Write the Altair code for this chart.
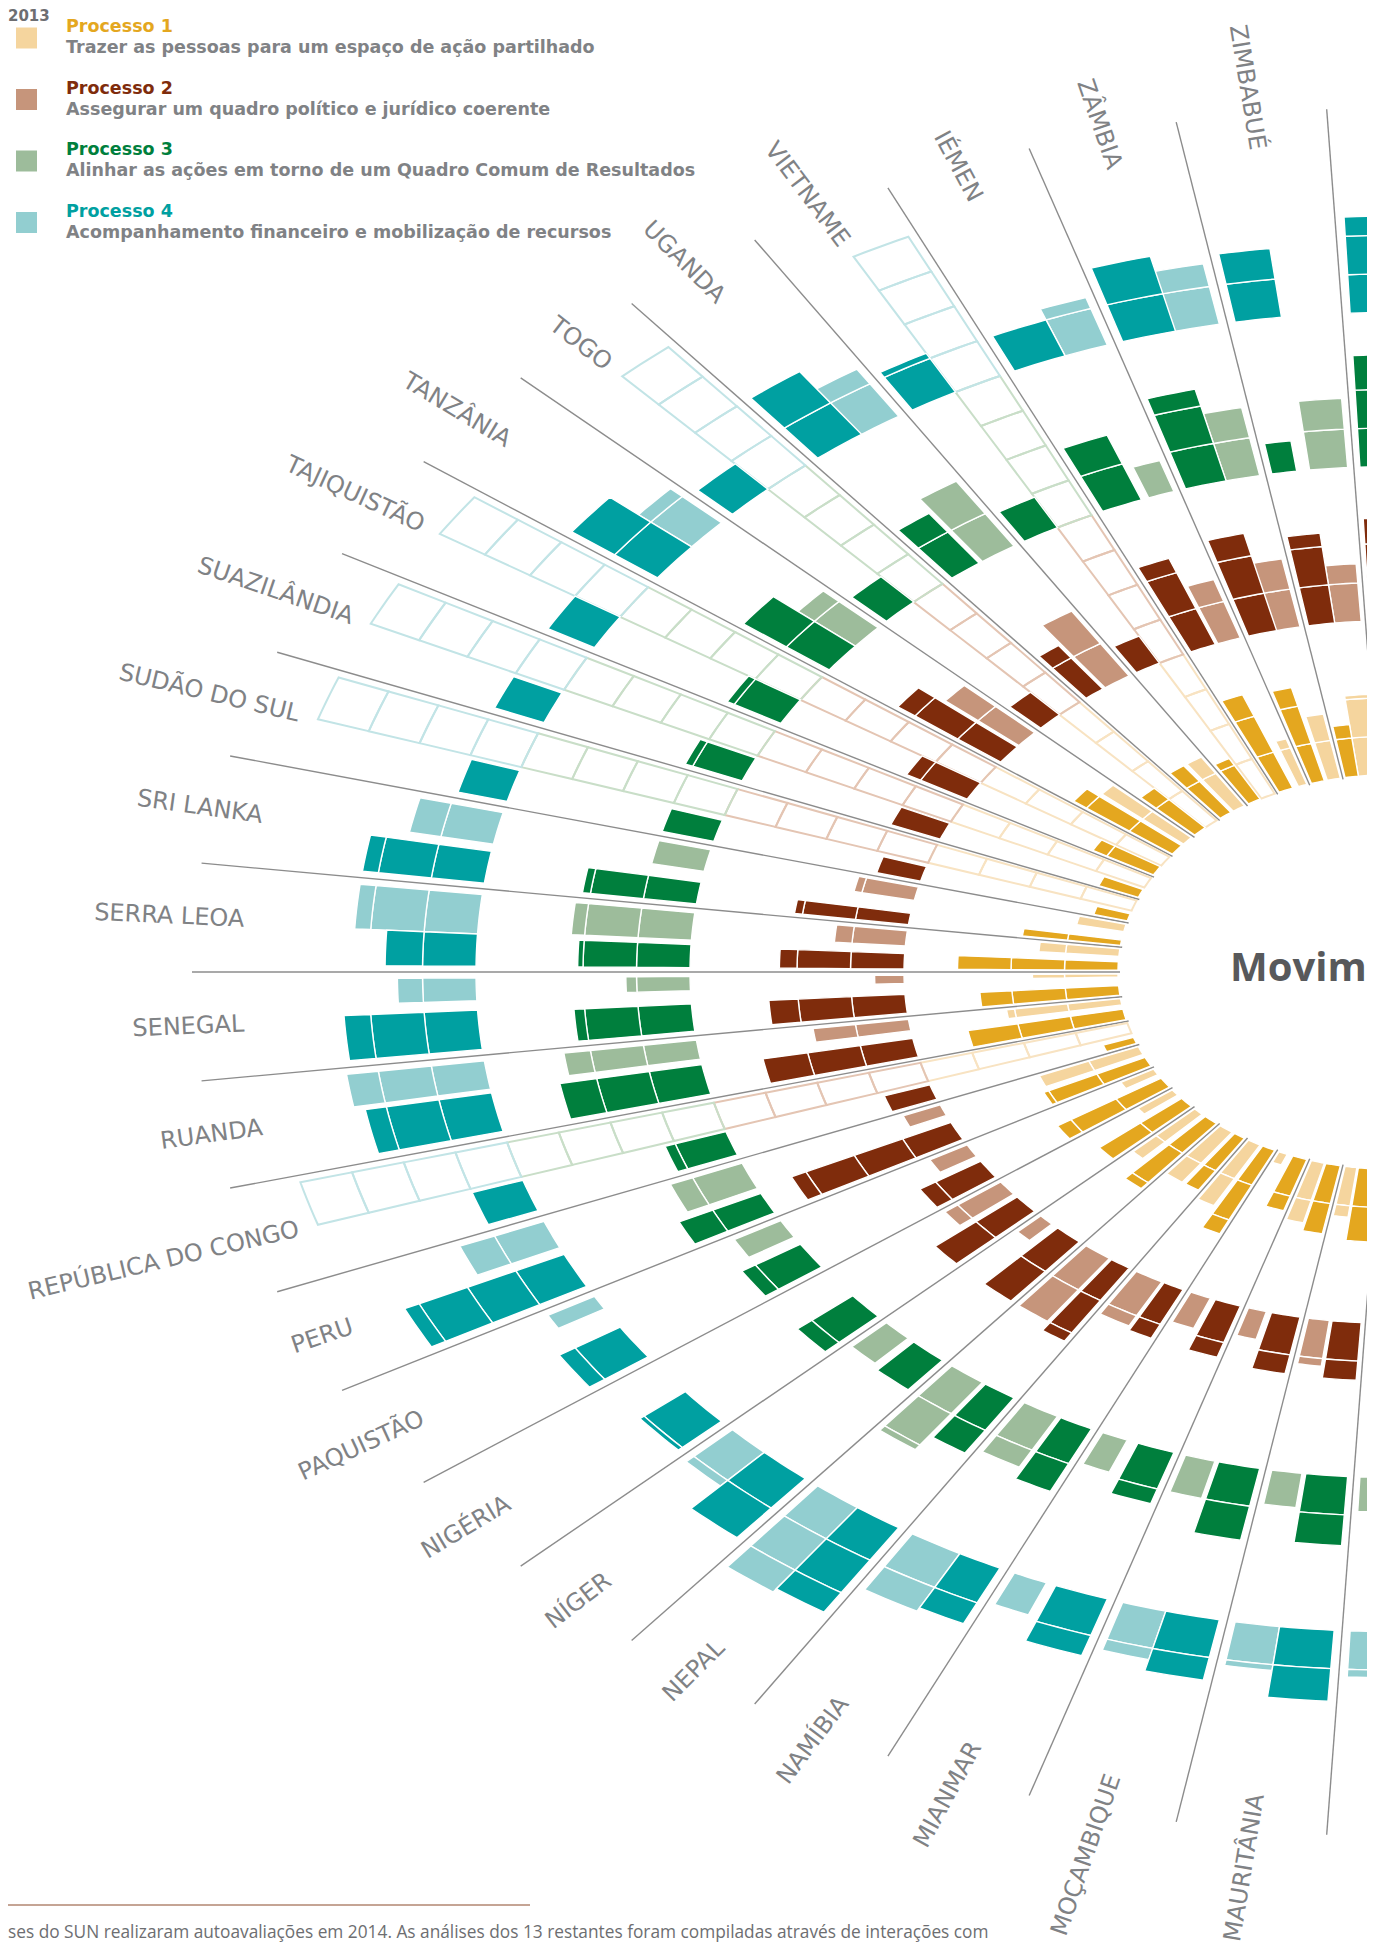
import math
import pandas as pd
import altair as alt

# ---------------- data ----------------
countries = ["BANGLADESH", "ZIMBABUÉ", "ZÂMBIA", "IÉMEN", "VIETNAME", "UGANDA", "TOGO",
             "TANZÂNIA", "TAJIQUISTÃO", "SUAZILÂNDIA", "SUDÃO DO SUL", "SRI LANKA",
             "SERRA LEOA", "SENEGAL", "RUANDA", "REPÚBLICA DO CONGO", "PERU", "PAQUISTÃO",
             "NIGÉRIA", "NÍGER", "NEPAL", "NAMÍBIA", "MIANMAR", "MOÇAMBIQUE", "MAURITÂNIA", "MALI"]
slots = [12, 11, 10, 9, 8, 7, 6, 5, 4, 3, 2, 1, 0, -1, -2, -3, -4, -5, -6, -7, -8, -9, -10, -11, -12, -13]
label_shown = [False] + [True] * 24 + [False]

# progress per process, in quarter steps (0-4); None = no 2013 assessment
p1_2013 = [1.5, 2.1, 1.7, 1.25, None, 1.5, None, 2.0, None, None, None, 0.9, 1.5, 1.6, 2.15, None, 2.0, 0.7, 0.8, 1.6, 1.6, 1.8, 0.3, 1.6, 1.3, 1.2]
p1_2014 = [1.8, 1.35, 2.5, 2.6, 1.2, 1.5, 1.4, 2.3, 1.3, 0.8, 0.65, 1.85, 3.0, 2.6, 2.95, 0.6, 2.1, 2.3, 2.0, 2.2, 1.6, 2.4, 1.4, 1.8, 1.9, 1.5]
p2_2013 = [1.5, 1.5, 1.8, 1.6, None, 2.0, None, 1.8, None, None, None, 1.15, 1.33, 0.55, 1.8, None, 0.75, 0.8, 1.3, 0.6, 2.0, 1.3, 0.85, 0.75, 1.2, 1.0]
p2_2014 = [2.66, 2.35, 2.6, 2.4, 0.8, 1.4, 0.8, 2.4, 1.3, 1.0, 0.85, 2.15, 2.33, 2.55, 2.85, 0.9, 3.3, 1.35, 2.0, 2.0, 2.25, 1.4, 1.4, 1.5, 1.5, 1.5]
p3_2013 = [1.5, 1.8, 1.8, 0.85, None, 2.0, None, 1.4, None, None, None, 1.0, 2.25, 1.2, 2.5, None, 1.45, 1.0, 0, 0.9, 2.15, 1.5, 0.9, 1.0, 0.9, 0.9]
p3_2014 = [2.9, 0.8, 2.45, 1.8, 0.9, 1.6, 0.9, 2.0, 1.15, 1.15, 1.0, 2.15, 2.1, 2.2, 2.7, 1.2, 1.7, 1.3, 1.35, 1.0, 1.7, 1.8, 1.4, 1.9, 1.8, 1.5]
p4_2013 = [1.5, 0, 1.6, 1.3, None, 1.45, None, 1.3, None, None, None, 1.6, 2.3, 1.47, 2.6, None, 1.7, 1.0, 0, 1.2, 2.7, 1.7, 0.9, 1.3, 1.15, 1.2]
p4_2014 = [2.5, 1.8, 2.0, 1.0, 1.15, 2.0, 0.9, 2.0, 1.0, 1.0, 0.95, 2.3, 1.7, 2.5, 2.4, 1.0, 3.3, 1.35, 1.1, 2.0, 2.6, 1.6, 1.55, 1.6, 1.85, 1.5]

# share of the country wedge taken by each bar
p1_2013_share = [.45, .55, .45, .3, None, .45, None, .4, None, None, None, .35, .35, .15, .3, None, .4, .3, .3, .35, .5, .45, .3, .45, .4, .45]
p1_2014_share = [.55, .45, .45, .5, .45, .45, .5, .5, .45, .4, .35, .25, .4, .45, .5, .3, .45, .5, .5, .5, .4, .45, .5, .5, .55, .5]
p2_2013_share = [.45, .5, .5, .45, None, .55, None, .45, None, None, None, .36, .4, .22, .3, None, .3, .35, .4, .3, .55, .55, .4, .35, .4, .45]
p2_2014_share = [.55, .5, .55, .5, .5, .4, .5, .5, .5, .45, .4, .3, .4, .5, .5, .4, .5, .5, .5, .55, .4, .4, .5, .55, .55, .5]
p3_2013_share = [.45, .5, .45, .35, None, .5, None, .45, None, None, None, .4, .5, .26, .35, None, .5, .35, 0, .4, .5, .5, .35, .4, .4, .45]
p3_2014_share = [.55, .33, .55, .55, .5, .45, .5, .55, .5, .45, .4, .4, .42, .5, .55, .45, .4, .5, .5, .5, .45, .45, .5, .55, .55, .5]
p4_2013_share = [.45, 0, .5, .45, None, .5, None, .45, None, None, None, .45, .55, .32, .4, None, .4, .2, 0, .45, .5, .55, .35, .45, .45, .45]
p4_2014_share = [.55, .47, .55, .55, .5, .55, .5, .55, .5, .45, .45, .45, .45, .55, .55, .45, .5, .5, .55, .55, .5, .45, .55, .55, .55, .5]

process_titles = ["Processo 1", "Processo 2", "Processo 3", "Processo 4"]
process_texts = ["Trazer as pessoas para um espaço de ação partilhado",
                 "Assegurar um quadro político e jurídico coerente",
                 "Alinhar as ações em torno de um Quadro Comum de Resultados",
                 "Acompanhamento financeiro e mobilização de recursos"]
footnote = ("ses do SUN realizaram autoavaliações em 2014. As análises dos 13 restantes "
            "foram compiladas através de interações com")

# ---------------- styling / geometry ----------------
DARK = ["#E4A71F", "#7F2C0C", "#007F3D", "#00A0A1"]
LIGHT = ["#F5D59E", "#C6957B", "#9DBC9B", "#92CED0"]
OUTLINE = ["#F8E3C2", "#E4C5B3", "#C9DEC8", "#C2E4E6"]
WEDGE = 7.24
MARGIN = 0.5
R_IN = [274, 488, 702, 916]
STEP = 53.5
OUT_SHARE = 0.5
W, H = 1359, 1935

vals = [(p1_2013, p1_2014, p1_2013_share, p1_2014_share),
        (p2_2013, p2_2014, p2_2013_share, p2_2014_share),
        (p3_2013, p3_2014, p3_2013_share, p3_2014_share),
        (p4_2013, p4_2014, p4_2013_share, p4_2014_share)]


def add_poly(rows, pid, r0, r1, pa, pb, col, n=6):
    k = 0
    for j in range(n):
        rows.append({"id": pid, "ord": k, "r": r0, "phi": pa + (pb - pa) * j / (n - 1), "col": col})
        k += 1
    for j in range(n):
        rows.append({"id": pid, "ord": k, "r": r1, "phi": pb - (pb - pa) * j / (n - 1), "col": col})
        k += 1


cell_rows, out_rows = [], []
pid = 0
usable = WEDGE - 2 * MARGIN
for i, s in enumerate(slots):
    lo, hi = s * WEDGE, (s + 1) * WEDGE
    for p in range(4):
        v13, v14, w13, w14 = (a[i] for a in vals[p])
        if v13 is None:
            pa, pb = hi - MARGIN - OUT_SHARE * usable, hi - MARGIN
            for c in range(4):
                add_poly(out_rows, pid, R_IN[p] + c * STEP, R_IN[p] + (c + 1) * STEP, pa, pb, OUTLINE[p])
                pid += 1
        for year, v, w in ((2013, v13, w13), (2014, v14, w14)):
            if v is None or v <= 0:
                continue
            if year == 2014:
                pa, pb, col = lo + MARGIN, lo + MARGIN + w * usable, DARK[p]
            else:
                pa, pb, col = hi - MARGIN - w * usable, hi - MARGIN, LIGHT[p]
            for c in range(math.ceil(v)):
                add_poly(cell_rows, pid, R_IN[p] + c * STEP, R_IN[p] + min(c + 1, v) * STEP, pa, pb, col)
                pid += 1

cells = pd.DataFrame(cell_rows)
outlines = pd.DataFrame(out_rows)
spokes = pd.DataFrame({"phi": [k * WEDGE for k in range(-13, 14)], "r0": 272, "r1": 1200})
labels = pd.DataFrame({"name": countries, "phi": [(s + 0.5) * WEDGE for s in slots], "r": 1150,
                       "shown": label_shown})
labels = labels[labels["shown"]].drop(columns="shown")

xs = alt.Scale(domain=[-1384, -1384 + W], nice=False, zero=False)
ys = alt.Scale(domain=[(964 - H) / 0.72, 964 / 0.72], nice=False, zero=False)
XC = "-datum.r*cos(datum.phi*PI/180)"
YC = "datum.r*sin(datum.phi*PI/180)"

spoke_layer = alt.Chart(spokes).transform_calculate(
    X0="-datum.r0*cos(datum.phi*PI/180)", Y0="datum.r0*sin(datum.phi*PI/180)",
    X1="-datum.r1*cos(datum.phi*PI/180)", Y1="datum.r1*sin(datum.phi*PI/180)",
).mark_rule(color="#8C8C8C", strokeWidth=1.4).encode(
    x=alt.X("X0:Q", scale=xs, axis=None), y=alt.Y("Y0:Q", scale=ys, axis=None),
    x2="X1:Q", y2="Y1:Q")

outline_layer = alt.Chart(outlines).transform_calculate(X=XC, Y=YC).mark_line(
    interpolate="linear-closed", strokeWidth=2).encode(
    x=alt.X("X:Q", scale=xs, axis=None), y=alt.Y("Y:Q", scale=ys, axis=None),
    detail="id:N", order="ord:Q", stroke=alt.Stroke("col:N", scale=None))

cell_layer = alt.Chart(cells).transform_calculate(X=XC, Y=YC).mark_line(
    filled=True, interpolate="linear-closed", stroke="white", strokeWidth=1.4).encode(
    x=alt.X("X:Q", scale=xs, axis=None), y=alt.Y("Y:Q", scale=ys, axis=None),
    detail="id:N", order="ord:Q", fill=alt.Fill("col:N", scale=None))

label_layer = alt.Chart(labels).transform_calculate(
    X=XC, Y=YC,
    ang="(atan2(0.72*sin(datum.phi*PI/180), cos(datum.phi*PI/180))*180/PI + 360) % 360",
).mark_text(align="right", baseline="middle", font="DejaVu Sans", fontSize=24, color="#808285").encode(
    x=alt.X("X:Q", scale=xs, axis=None), y=alt.Y("Y:Q", scale=ys, axis=None),
    angle=alt.Angle("ang:Q", scale=None), text="name:N")

title_layer = alt.Chart(pd.DataFrame({"X": [0], "Y": [0], "t": ["Movimento SUN"]})).mark_text(
    align="center", baseline="middle", font="Open Sans", fontSize=40, fontWeight="bold",
    color="#58595B", dy=-3).encode(
    x=alt.X("X:Q", scale=xs, axis=None), y=alt.Y("Y:Q", scale=ys, axis=None), text="t:N")


def txt(s, x, y, size, color, weight="bold", font="DejaVu Sans"):
    return alt.Chart(pd.DataFrame({"t": [s]})).mark_text(
        align="left", baseline="alphabetic", font=font, fontSize=size, fontWeight=weight,
        color=color).encode(x=alt.value(x), y=alt.value(y), text="t:N")


legend = [txt("2013", 0, 13, 15, "#6D6E71")]
for i in range(4):
    top = 19.5 + 61.5 * i
    legend.append(alt.Chart(pd.DataFrame({"a": [0]})).mark_rect(color=LIGHT[i]).encode(
        x=alt.value(8), x2=alt.value(29), y=alt.value(top), y2=alt.value(top + 21)))
    legend.append(txt(process_titles[i], 58, 24 + 61.5 * i, 17.5, DARK[i]))
    legend.append(txt(process_texts[i], 58, 45 + 61.5 * i, 17.5, "#808285"))

foot_rule = alt.Chart(pd.DataFrame({"a": [0]})).mark_rule(color="#8B4A2B", strokeWidth=1).encode(
    x=alt.value(-8), x2=alt.value(522), y=alt.value(1897))
foot_text = txt(footnote, 0, 1930, 17.3, "#6D6E71", weight="normal", font="Open Sans")

chart = alt.layer(spoke_layer, outline_layer, cell_layer, label_layer, title_layer,
                  *legend, foot_rule, foot_text).properties(
    width=W, height=H, padding=0, background="white",
    autosize=alt.AutoSizeParams(type="none")).configure_view(stroke=None)

chart.save("out.html", embed_options={"renderer": "svg", "actions": False})
